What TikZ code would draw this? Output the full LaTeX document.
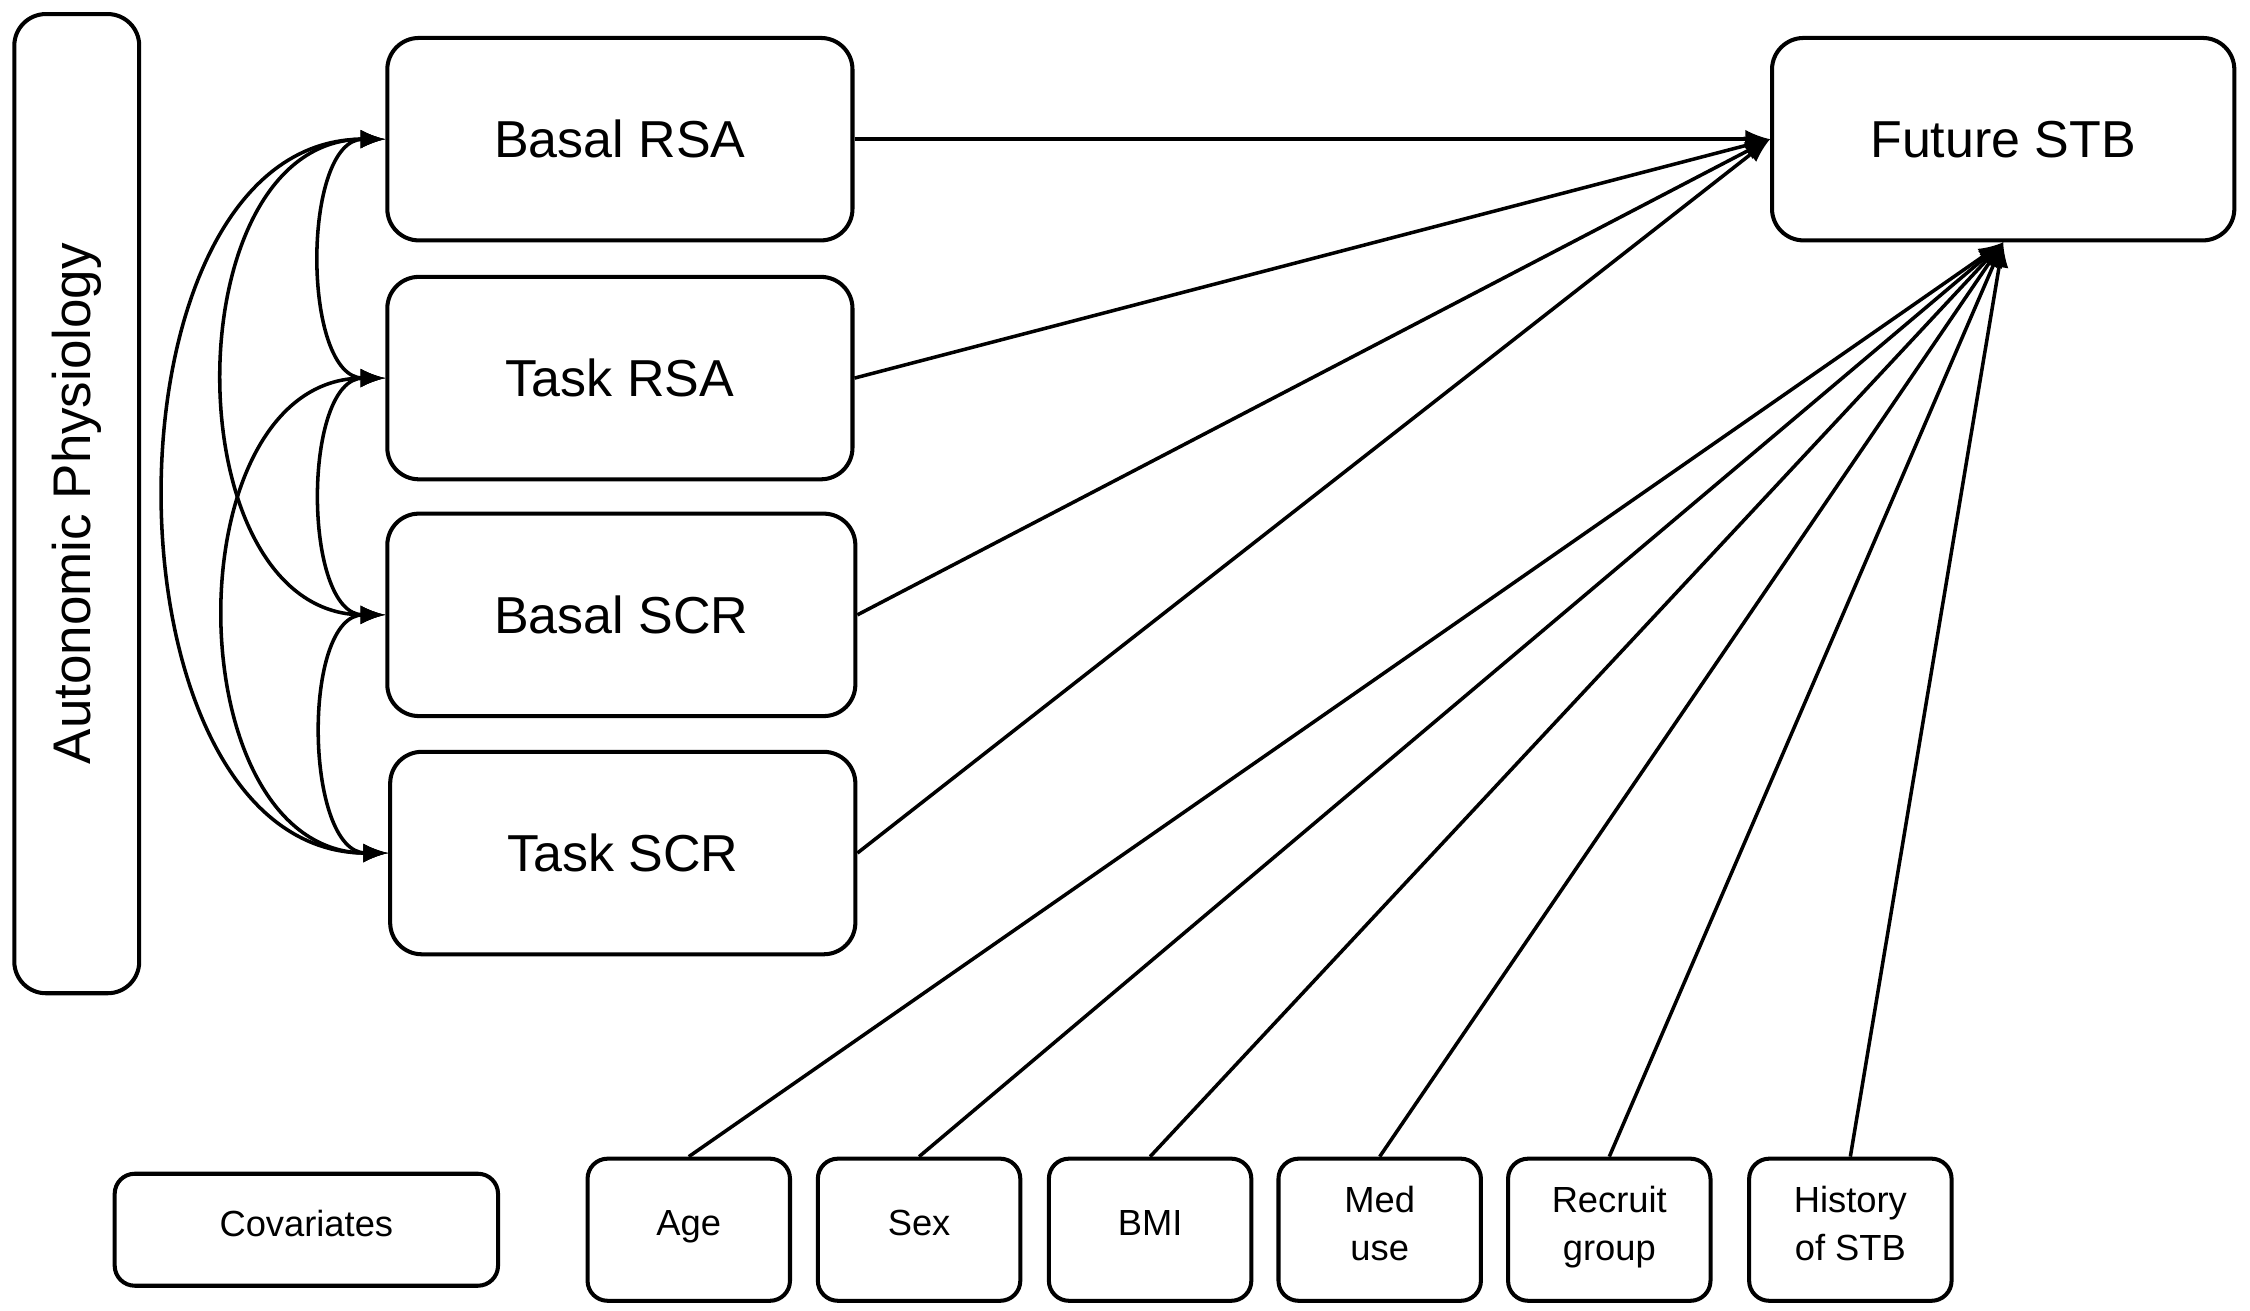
\documentclass[tikz,border=0pt]{standalone}
\usepackage{fontspec}
\setmainfont{Liberation Sans}
\usetikzlibrary{arrows.meta}

\tikzset{
    varbox/.style={draw, line width=0.8pt, rounded corners=0.22cm, minimum width=3.24cm, minimum height=1.41cm, font=\fontsize{10.3}{12}\selectfont},
    covbox/.style={draw, line width=0.8pt, rounded corners=0.14cm, minimum width=1.41cm, minimum height=0.99cm, align=center, text depth=0.5ex, font=\fontsize{7.2}{9.5}\selectfont},
    path/.style={line width=0.7pt, -latex},
    corr/.style={line width=0.7pt, latex-latex}
}

\begin{document}
\begin{tikzpicture}[x=0.01cm, y=-0.01cm]
    \useasboundingbox (0,0) rectangle (1568,913.6);
    % left side label
    \node[draw, line width=0.8pt, rounded corners=0.22cm, minimum width=6.82cm, minimum height=0.87cm, rotate=90, font=\fontsize{10.5}{12}\selectfont] (auto) at (53.5,351) {Autonomic Physiology};
    % physiology measures
    \node[varbox] (brsa) at (432,97) {Basal RSA};
    \node[varbox] (trsa) at (432,263.5) {Task RSA};
    \node[varbox, minimum width=3.26cm] (bscr) at (433,428.5) {Basal SCR};
    \node[varbox] (tscr) at (434,594.5) {Task SCR};
    \node[varbox, minimum width=3.22cm] (stb) at (1396,97) {Future STB};
    % covariates
    \node[covbox, minimum width=2.67cm, minimum height=0.78cm] (cov) at (213.5,857) {Covariates};
    \node[covbox] (age) at (480,857) {Age};
    \node[covbox] (sex) at (640.5,857) {Sex};
    \node[covbox] (bmi) at (801.5,857) {BMI};
    \node[covbox] (med) at (961.5,857) {Med\\use};
    \node[covbox] (rec) at (1121.5,857) {Recruit\\group};
    \node[covbox] (hist) at (1289.5,857) {History\\of STB};
    % paths to outcome
    \draw[path] (brsa.east) -- (stb.west);
    \draw[path] (trsa.east) -- (stb.west);
    \draw[path] (bscr.east) -- (stb.west);
    \draw[path] (tscr.east) -- (stb.west);
    \foreach \c in {age,sex,bmi,med,rec,hist}
        \draw[path] (\c.north) -- (stb.south);
    % correlations
    \draw[corr] (brsa.west) to[out=180, in=180, looseness=0.9] (trsa.west);
    \draw[corr] (trsa.west) to[out=180, in=180, looseness=0.9] (bscr.west);
    \draw[corr] (bscr.west) to[out=180, in=180, looseness=0.9] (tscr.west);
    \draw[corr] (brsa.west) to[out=180, in=180, looseness=1.15] (bscr.west);
    \draw[corr] (trsa.west) to[out=180, in=180, looseness=1.15] (tscr.west);
    \draw[corr] (brsa.west) to[out=180, in=180, looseness=1.05] (tscr.west);
\end{tikzpicture}
\end{document}
